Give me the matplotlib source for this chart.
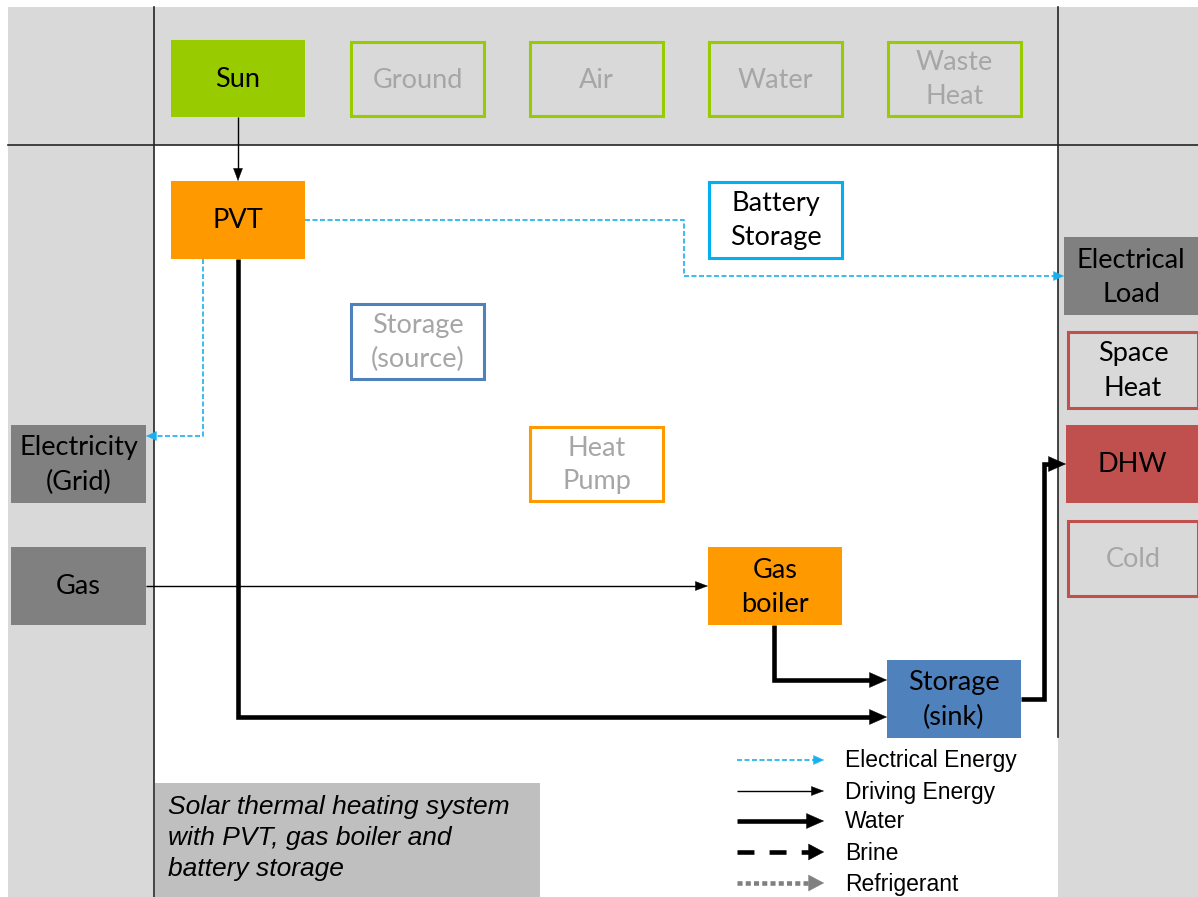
import matplotlib
matplotlib.use("Agg")
import matplotlib.pyplot as plt
from matplotlib.patches import Rectangle

W, H = 1198, 897
fig = plt.figure(figsize=(W / 100, H / 100), dpi=100)
ax = fig.add_axes([0, 0, 1, 1])
ax.set_xlim(0, W)
ax.set_ylim(H, 0)
ax.axis("off")

LIGHT = "#d9d9d9"
GREEN = "#99cc00"
ORANGE = "#ff9900"
BLUE = "#4f81bd"
CYAN = "#00b0f0"
RED = "#c0504d"
DGRAY = "#808080"
TGRAY = "#a6a6a6"
FRAME = "#262626"

# ---- component boxes: label, (x0, y0, x1, y1), fill, edge, text colour
box_labels = ["Sun", "Ground", "Air", "Water", "Waste\nHeat",
              "PVT", "Battery\nStorage", "Storage\n(source)", "Heat\nPump",
              "Electricity\n(Grid)", "Gas", "Gas\nboiler", "Storage\n(sink)",
              "Electrical\nLoad", "Space\nHeat", "DHW", "Cold"]
box_rects = [(171, 40, 305, 117), (351, 42, 484, 116), (530, 42, 663, 116),
             (709, 42, 842, 116), (888, 42, 1021, 116),
             (171, 181, 305, 259), (709, 182, 842, 258), (351, 304, 484, 379),
             (530, 427, 663, 501),
             (11, 425, 146, 503), (11, 547, 146, 625), (708, 547, 842, 625),
             (887, 660, 1021, 738),
             (1064, 237, 1198, 315), (1068, 332, 1198, 408), (1066, 425, 1198, 503),
             (1068, 521, 1198, 596)]
box_fills = [GREEN, LIGHT, LIGHT, LIGHT, LIGHT,
             ORANGE, "white", "white", "white",
             DGRAY, DGRAY, ORANGE, BLUE,
             DGRAY, LIGHT, RED, LIGHT]
box_edges = [None, GREEN, GREEN, GREEN, GREEN,
             None, CYAN, BLUE, ORANGE,
             None, None, None, None,
             None, RED, None, RED]
box_text = ["black", TGRAY, TGRAY, TGRAY, TGRAY,
            "black", "black", TGRAY, TGRAY,
            "black", "black", "black", "black",
            "black", "black", "black", TGRAY]

# ---- flows: path points, kind
flow_paths = [
    [(238, 117), (238, 181)],                                   # Sun -> PVT
    [(305, 220), (684, 220), (684, 276), (1064, 276)],          # PVT -> Electrical load
    [(203, 259), (203, 436), (146, 436)],                       # PVT -> Grid
    [(146, 586), (708, 586)],                                   # Gas -> Gas boiler
    [(238, 259), (238, 717), (887, 717)],                       # PVT -> Storage sink
    [(774, 625), (774, 680), (887, 680)],                       # Gas boiler -> Storage sink
    [(1021, 699), (1044, 699), (1044, 464), (1066, 464)],       # Storage sink -> DHW
]
flow_kinds = ["driving", "electrical", "electrical", "driving", "water", "water", "water"]

legend_labels = ["Electrical Energy", "Driving Energy", "Water", "Brine", "Refrigerant"]
legend_kinds = ["electrical", "driving", "water", "brine", "refrigerant"]

caption = "Solar thermal heating system\nwith PVT, gas boiler and\nbattery storage"

# head = (length px, half width px)
styles = {
    "electrical": dict(color="#1ab0ee", lw=1.2, ls=(0, (3, 1.5)), head=(10, 4.5)),
    "driving": dict(color="black", lw=1.0, ls="-", head=(12, 4.5)),
    "water": dict(color="black", lw=3.3, ls="-", head=(17, 7.5)),
    "brine": dict(color="black", lw=3.3, ls=(0, (3.7, 3.3)), head=(15, 8)),
    "refrigerant": dict(color="#808080", lw=3.3, ls=(0, (1.1, 0.7)), head=(15, 8)),
}

# ---- background regions
ax.add_patch(Rectangle((8, 7), W - 8, 138, fc=LIGHT, ec="none", zorder=0))
ax.add_patch(Rectangle((8, 145), 146, H - 145, fc=LIGHT, ec="none", zorder=0))
ax.add_patch(Rectangle((1058, 145), W - 1058, H - 145, fc=LIGHT, ec="none", zorder=0))
ax.plot([8, W], [145, 145], color=FRAME, lw=1.2, zorder=1)
ax.plot([154, 154], [7, H], color=FRAME, lw=1.2, zorder=1)
ax.plot([1058, 1058], [7, 737], color=FRAME, lw=1.2, zorder=1)

BOXFONT = ["Lato", "DejaVu Sans"]
for lab, (x0, y0, x1, y1), fc, ec, tc in zip(box_labels, box_rects, box_fills, box_edges, box_text):
    if ec is None:
        ax.add_patch(Rectangle((x0, y0), x1 - x0, y1 - y0, fc=fc, ec="none", zorder=3))
    else:
        ax.add_patch(Rectangle((x0, y0), x1 - x0, y1 - y0, fc=fc, ec=ec, lw=2.2, zorder=3))
    ax.text((x0 + x1) / 2, (y0 + y1) / 2 + 1, lab, ha="center", va="center",
            color=tc, fontsize=19.5, family=BOXFONT, linespacing=1.45, zorder=4)

PT = 0.72  # points per pixel at dpi 100


def draw_flow(pts, kind):
    st = styles[kind]
    xs = [p[0] for p in pts]
    ys = [p[1] for p in pts]
    (xa, ya), (xb, yb) = pts[-2], pts[-1]
    L = ((xb - xa) ** 2 + (yb - ya) ** 2) ** 0.5
    ux, uy = (xb - xa) / L, (yb - ya) / L
    hl, hw = st["head"]
    xs[-1] = xb - ux * (hl - 1)
    ys[-1] = yb - uy * (hl - 1)
    ax.plot(xs, ys, color=st["color"], lw=st["lw"], ls=st["ls"],
            solid_joinstyle="miter", solid_capstyle="butt", dash_capstyle="butt", zorder=5)
    ms = 10.0
    ax.annotate("", xy=(xb, yb), xytext=(xb - ux * hl, yb - uy * hl),
                arrowprops=dict(arrowstyle="-|>,head_length=%.3f,head_width=%.3f"
                                % (hl * PT / ms, hw * PT / ms),
                                color=st["color"], lw=0.3,
                                mutation_scale=ms, shrinkA=0, shrinkB=0),
                zorder=6)


for pts, kind in zip(flow_paths, flow_kinds):
    draw_flow(pts, kind)

# ---- legend
ax.add_patch(Rectangle((700, 739), 357, H - 739, fc="white", ec="none", zorder=2))
leg_y = [760, 791, 821, 852, 883]
for y, lab, kind in zip(leg_y, legend_labels, legend_kinds):
    draw_flow([(737, y), (824, y)], kind)
    ax.text(845, y + 1, lab, ha="left", va="center", fontsize=16.5,
            family="Liberation Sans", color="black", zorder=6)

# ---- caption
ax.add_patch(Rectangle((155, 783), 385, H - 783, fc="#bfbfbf", ec="none", zorder=2))
ax.text(168, 838, caption, ha="left", va="center", fontsize=19, style="italic",
        family="Liberation Sans", linespacing=1.36, zorder=6)

fig.savefig("out.png", dpi=100, facecolor="white")
